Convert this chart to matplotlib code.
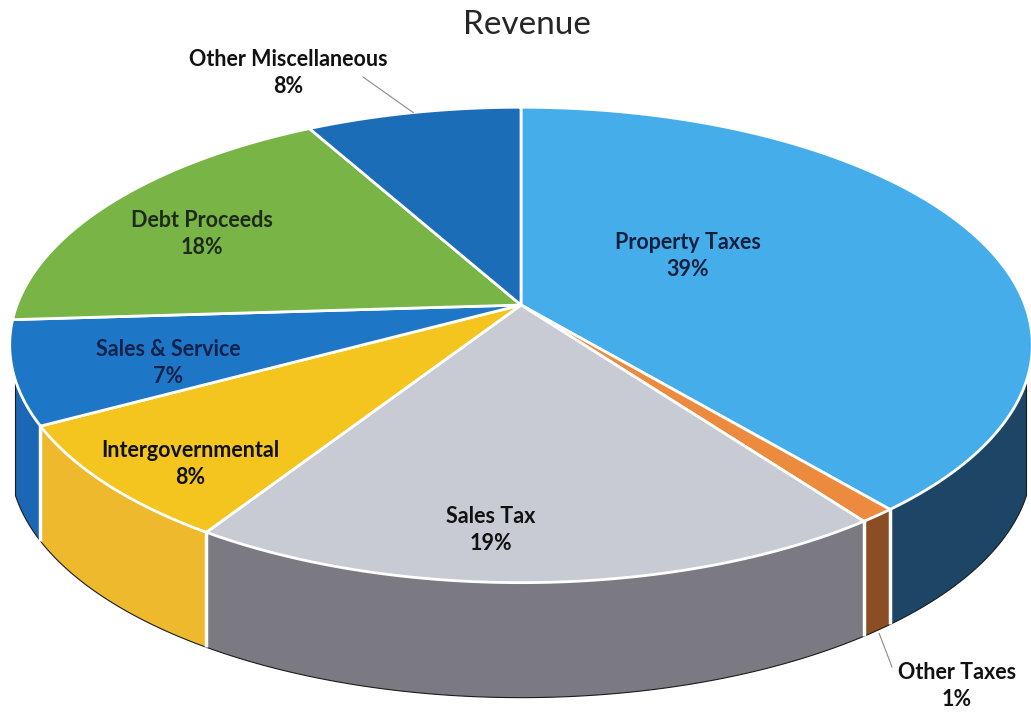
"""
Revenue breakdown drawn as a tilted 3D pie (perspective top face + extruded front wall).
"""

import numpy as np
import matplotlib
matplotlib.use("Agg")
from matplotlib import pyplot as plt
from matplotlib.patches import Polygon

plt.rcParams['font.family'] = ['Lato', 'DejaVu Sans']

# revenue shares, clockwise from 12 o'clock
categories = ["Property Taxes", "Other Taxes", "Sales Tax", "Intergovernmental",
              "Sales & Service", "Debt Proceeds", "Other Miscellaneous"]
shares = [39, 1, 19, 8, 7, 18, 8]

top_colors = ["#45aeea", "#ec8a3e", "#c9cbd4", "#f4c51f", "#1e76c6", "#79b446", "#1c6db8"]
side_colors = ["#1d4566", "#8a4d24", "#7b7982", "#efb92e", "#1b67b5", "#5e8f35", "#15589a"]
text_colors = ["#13213f", "#111111", "#111111", "#111111", "#12224a", "#1f2b1a", "#111111"]

# label anchor (pixel coords of the two-line block centre)
label_pos = [(688, 256), (957, 686), (491, 530), (190, 464), (168, 363), (202, 234), (288, 73)]

W, H = 1031, 712
CX, CY = 521, 305          # pie centre on screen
A, B, K = 504, 231, 0.168  # horizontal / vertical scale, perspective strength
DEPTH = 115
SILHOUETTE = 0.31          # sin of the angle where the wall turns out of view


def project(r, theta):
    """Map polar disk coords to screen pixels with a simple perspective."""
    u = r * np.cos(theta)
    v = r * np.sin(theta)
    w = 1 + K * v
    return CX + A * u / w, CY - B * v / w


def main():
    fig = plt.figure(figsize=(W / 100, H / 100), dpi=100)
    ax = fig.add_axes([0, 0, 1, 1])
    ax.set_xlim(0, W)
    ax.set_ylim(H, 0)
    ax.axis('off')

    fracs = np.array(shares) / sum(shares)
    bounds = np.deg2rad(90 - 360 * np.concatenate([[0], np.cumsum(fracs)]))

    # part of the rim whose wall faces the viewer
    edge = np.arcsin(SILHOUETTE)
    vis_lo, vis_hi = -np.pi + edge, -edge

    # side walls
    for i in range(len(shares)):
        hi, lo = bounds[i], bounds[i + 1]
        a, b = max(lo, vis_lo), min(hi, vis_hi)
        if a >= b:
            continue
        t = np.linspace(b, a, 120)
        x, y = project(1, t)
        poly = np.column_stack([np.r_[x, x[::-1]], np.r_[y, y[::-1] + DEPTH]])
        ax.add_patch(Polygon(poly, closed=True, fc=side_colors[i], ec="#1b1b1b",
                             lw=0.8, zorder=1))

    # white seams on the wall
    for b in bounds:
        if vis_lo < b < vis_hi:
            x, y = project(1, b)
            ax.plot([x, x], [y, y + DEPTH], color="white", lw=2.5, zorder=2,
                    solid_capstyle="butt")

    # top face wedges
    for i in range(len(shares)):
        t = np.linspace(bounds[i], bounds[i + 1], 200)
        x, y = project(1, t)
        poly = np.column_stack([np.r_[CX, x], np.r_[CY, y]])
        ax.add_patch(Polygon(poly, closed=True, fc=top_colors[i], ec="white",
                             lw=2, joinstyle="round", zorder=3))

    # data labels
    for i, name in enumerate(categories):
        lx, ly = label_pos[i]
        ax.text(lx, ly, f"{name}\n{shares[i]}%", ha="center", va="center",
                fontsize=15.5, fontweight="bold", color=text_colors[i],
                linespacing=1.4, zorder=5)

    # leader lines for the outside labels
    mid = (bounds[:-1] + bounds[1:]) / 2
    mx, my = project(1, mid[6])
    ax.plot([363, mx], [77, my], color="#8a8a8a", lw=0.8, zorder=4)
    mx, my = project(1, mid[1])
    ax.plot([mx + 2, 892], [my + DEPTH + 3, 667], color="#8a8a8a", lw=0.8, zorder=4)

    ax.text(527, 25, "Revenue", ha="center", va="center", fontsize=24,
            color="#262626")

    fig.savefig("out.png", dpi=100, facecolor="white")


if __name__ == "__main__":
    main()
